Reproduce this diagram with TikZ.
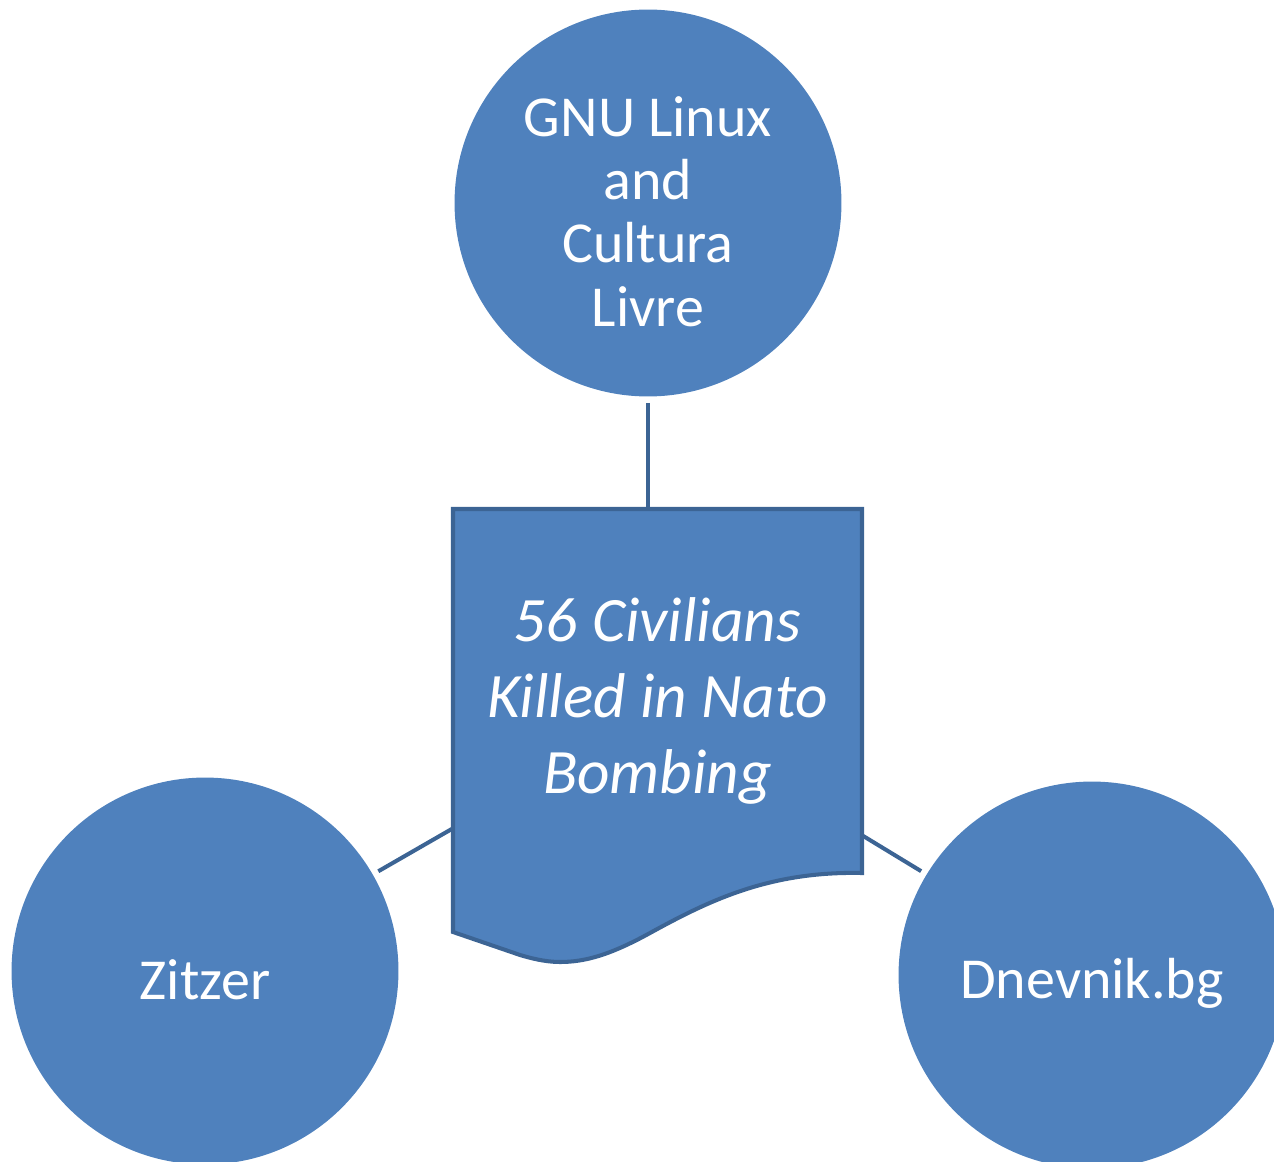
\documentclass[tikz,border=0pt]{standalone}
\usepackage{fontspec}
\setmainfont{Carlito}
\usetikzlibrary{positioning}
\definecolor{smartfill}{HTML}{4F81BD}
\definecolor{smartline}{HTML}{3C6494}

\begin{document}
\begin{tikzpicture}[
  x=0.02cm, y=-0.02cm,
  bubble/.style={circle, fill=smartfill, minimum size=7.74cm, inner sep=0pt, outer sep=0.13cm},
  bubbletext/.style={text=white, align=center, yshift=-0.17cm, font=\fontsize{33}{36}\selectfont},
  docnode/.style={rectangle, minimum width=8.18cm, minimum height=8.08cm, inner sep=0pt, outer sep=0pt},
  doctext/.style={text=white, align=center, yshift=0.2cm, font=\fontsize{36}{43}\selectfont\itshape},
  docshape/.style={draw=smartline, fill=smartfill, line width=2.3pt, line join=miter},
  link/.style={draw=smartline, line width=2.3pt}
]
\useasboundingbox (0,0) rectangle (1274,1162);
\clip (0,0) rectangle (1274,1162);

% document shape in the middle
\path[docshape] (453,509) -- (862,509) -- (862,873)
  .. controls (770,871) and (710,900) .. (650,933)
  .. controls (610,955) and (585,962) .. (560,962)
  .. controls (545,962) and (530,958) .. (520,955)
  -- (453,932) -- cycle;
\node[docnode, label={[doctext]center:56 Civilians\\Killed in Nato\\Bombing}] (doc) at (657.5,711) {};

% sources
\node[bubble, label={[bubbletext]center:GNU Linux\\and\\Cultura\\Livre}] (gnu) at (648,203) {};
\node[bubble, label={[bubbletext]center:Zitzer}] (zitzer) at (205,971) {};
\node[bubble, label={[bubbletext]center:Dnevnik.bg}] (dnevnik) at (1092,975) {};

\draw[link] (gnu) -- (gnu |- doc.north);
\draw[link] (zitzer) -- (doc);
\draw[link] (dnevnik) -- (doc);

\end{tikzpicture}
\end{document}
